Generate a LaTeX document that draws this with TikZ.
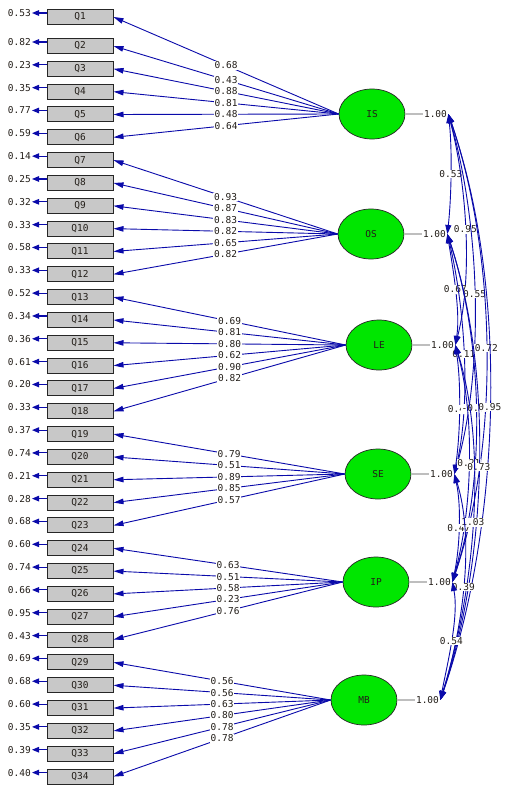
\documentclass[tikz,border=0pt]{standalone}
\usepackage{fontspec}
\setmonofont{DejaVu Sans Mono}
\usetikzlibrary{arrows.meta,calc,shapes.geometric}
\definecolor{lineblue}{RGB}{10,10,170}
\definecolor{egreen}{RGB}{0,230,0}
\definecolor{boxgray}{RGB}{200,200,200}
\definecolor{txt}{RGB}{35,30,25}
\definecolor{vargray}{RGB}{190,190,190}
\begin{document}
\begin{tikzpicture}[x=1pt,y=-1pt,
  every node/.style={font=\ttfamily\fontsize{9.5}{10}\selectfont, text=txt},
  qbox/.style={draw=black!85, line width=1pt, fill=boxgray, minimum width=66pt, minimum height=15pt, inner sep=0pt},
  factor/.style={ellipse, draw=black!85, line width=0.7pt, fill=egreen, minimum width=66pt, minimum height=50pt, inner sep=0pt},
  lbl/.style={fill=white, inner sep=0.8pt},
  errlbl/.style={anchor=east, inner sep=1pt},
  load/.style={draw=lineblue, line width=0.9pt, -{Triangle[length=10pt,width=5.5pt]}},
  errarrow/.style={draw=lineblue, line width=1.1pt, -{Triangle[length=7pt,width=5.5pt]}},
  corr/.style={draw=lineblue, line width=0.9pt, {Triangle[length=9pt,width=6pt]}-{Triangle[length=9pt,width=6pt]}},
  varline/.style={draw=vargray, line width=1.2pt}
]
\useasboundingbox (0,0) rectangle (505,790);
\fill[white] (0,0) rectangle (505,790);

% observed variables
\foreach \i/\e in {1/0.53,2/0.82,3/0.23,4/0.35,5/0.77,6/0.59,7/0.14,8/0.25,9/0.32,10/0.33,11/0.58,12/0.33,13/0.52,14/0.34,15/0.36,16/0.61,17/0.20,18/0.33,19/0.37,20/0.74,21/0.21,22/0.28,23/0.68,24/0.60,25/0.74,26/0.66,27/0.95,28/0.43,29/0.69,30/0.68,31/0.60,32/0.35,33/0.39,34/0.40} {
  \pgfmathsetmacro{\yy}{ifthenelse(\i==1,17,46+22.83*(\i-2))}
  \node[qbox] (Q\i) at (80,\yy) {Q\i};
  \node[errlbl] (E\i) at (32,\yy-4) {\e};
  \draw[errarrow] (Q\i.west |- E\i) -- (E\i.east);
}

% latent factors
\node[factor] (IS) at (372,114) {IS};
\node[factor] (OS) at (371,234) {OS};
\node[factor] (LE) at (379,345) {LE};
\node[factor] (SE) at (378,474) {SE};
\node[factor] (IP) at (376,582) {IP};
\node[factor] (MB) at (364,700) {MB};

% loadings
\foreach \f/\q/\v in {IS/1/0.68,IS/2/0.43,IS/3/0.88,IS/4/0.81,IS/5/0.48,IS/6/0.64,
  OS/7/0.93,OS/8/0.87,OS/9/0.83,OS/10/0.82,OS/11/0.65,OS/12/0.82,
  LE/13/0.69,LE/14/0.81,LE/15/0.80,LE/16/0.62,LE/17/0.90,LE/18/0.82,
  SE/19/0.79,SE/20/0.51,SE/21/0.89,SE/22/0.85,SE/23/0.57,
  IP/24/0.63,IP/25/0.51,IP/26/0.58,IP/27/0.23,IP/28/0.76,
  MB/29/0.56,MB/30/0.56,MB/31/0.63,MB/32/0.80,MB/33/0.78,MB/34/0.78} {
  \draw[load] (\f.west) -- node[lbl] {\v} (Q\q.east);
}

% variance end points
\foreach \f in {IS,OS,LE,SE,IP,MB} {
  \coordinate (v\f) at ($(\f.east)+(18,0)$);
  \coordinate (a\f) at ($(\f.east)+(18+25,0)$);
}

% correlations (drawn in matrix order)
\foreach \A/\B/\d/\h/\v in {IS/OS/4/36/0.53, IS/LE/18/69/0.95, OS/LE/5.3/33/0.67,
  IS/SE/31/108/0.55, OS/SE/17.3/72/0.11, LE/SE/6/39/0.48,
  IS/IP/48/140/0.72, OS/IP/34.7/104/-0.05, LE/IP/20/71/0.21, SE/IP/7.3/32/0.47,
  IS/MB/60.7/176/0.95, OS/MB/46.7/140/0.73, LE/MB/33.3/106/1.03, SE/MB/21.3/68/0.39, IP/MB/6.7/35/0.54} {
  \draw[corr] (a\A) .. controls +(\d,\h) and +(\d,-\h) .. node[lbl, pos=0.5] {\v} (a\B);
}

% variances
\foreach \f in {IS,OS,LE,SE,IP,MB} {
  \draw[varline] (\f.east) -- (v\f);
  \node[anchor=west, fill=white, inner sep=0.5pt] (t\f) at (v\f) {1.00};
}
\end{tikzpicture}
\end{document}
